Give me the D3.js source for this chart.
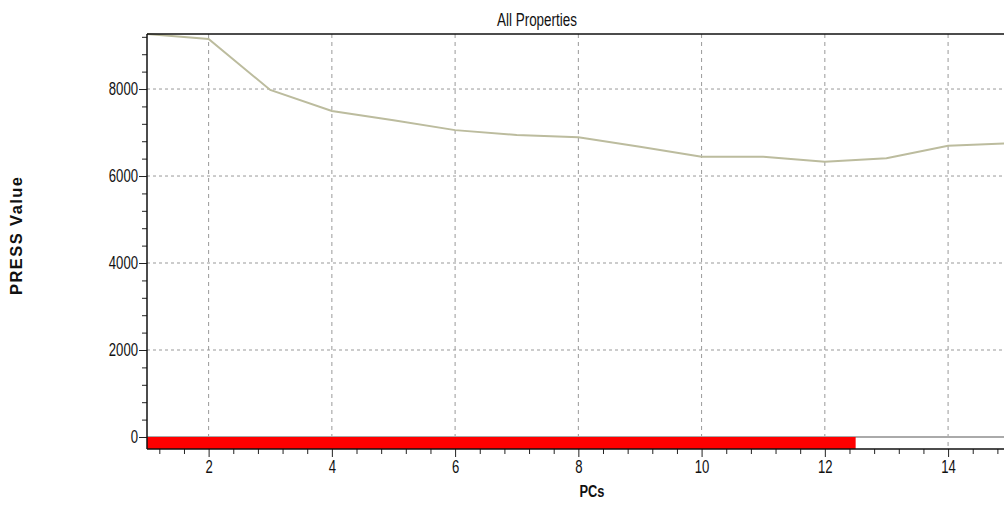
<!DOCTYPE html>
<html>
<head>
<meta charset="utf-8">
<script src="https://cdn.jsdelivr.net/npm/d3@7"></script>
<style>
  body { margin: 0; background: #fff; }
  svg { display: block; }
  .tick text { font-family: "Liberation Sans", Arial, sans-serif; font-size: 18px; fill: #111; }
</style>
</head>
<body>
<svg id="chart"></svg>
<script>
const width = 1004;
const height = 505;

// PRESS value per number of PCs
const pcs = [1, 2, 3, 4, 5, 6, 7, 8, 9, 10, 11, 12, 13, 14, 15];
const press = [9265, 9150, 7978, 7495, 7280, 7055, 6945, 6890, 6672, 6445, 6445, 6330, 6408, 6698, 6752];
const selected = 12.5; // red bar reaches here
const xTicks = [2, 4, 6, 8, 10, 12, 14];
const yTicks = [0, 2000, 4000, 6000, 8000];

const plotLeft = 147, plotRight = 1009.7, plotTop = 34, plotBottom = 449;

var xScale = d3.scaleLinear().domain([1, 15]).range([plotLeft, plotRight]);
var yScale = d3.scaleLinear().domain([-276, 9265]).range([plotBottom, plotTop]);

var svg = d3.select("#chart").attr("width", width).attr("height", height);

// squeeze labels to look like a narrow font
function narrow(sel) {
    sel.attr("textLength", function() { return this.textContent.length * 7.3; })
       .attr("lengthAdjust", "spacingAndGlyphs");
}

// grid
svg.append("g")
    .selectAll("line")
    .data(xTicks)
    .enter()
    .append("line")
    .attr("x1", d => xScale(d)).attr("x2", d => xScale(d))
    .attr("y1", plotTop).attr("y2", plotBottom)
    .attr("stroke", "#999").attr("stroke-dasharray", "4,4");

svg.append("g")
    .selectAll("line")
    .data(yTicks.filter(d => d > 0))
    .enter()
    .append("line")
    .attr("x1", plotLeft).attr("x2", width)
    .attr("y1", d => yScale(d)).attr("y2", d => yScale(d))
    .attr("stroke", "#999").attr("stroke-dasharray", "3,3");

// zero line
svg.append("line")
    .attr("x1", plotLeft).attr("x2", width)
    .attr("y1", yScale(0)).attr("y2", yScale(0))
    .attr("stroke", "#aaa").attr("stroke-width", 2);

// selected PCs bar
svg.append("rect")
    .attr("x", xScale(1))
    .attr("y", yScale(0))
    .attr("width", xScale(selected) - xScale(1))
    .attr("height", plotBottom - yScale(0))
    .attr("fill", "#ff0000");

// PRESS line
var lineGenerator = d3.line().x((d, i) => xScale(pcs[i])).y(d => yScale(d));
svg.append("path")
    .attr("d", lineGenerator(press))
    .attr("fill", "none")
    .attr("stroke", "#bcbc9e")
    .attr("stroke-width", 2);

// axes
var xMinor = d3.range(1.2, 15.01, 0.4).filter(v => Math.abs(v / 2 - Math.round(v / 2)) > 0.01);
svg.append("g")
    .attr("transform", `translate(0,${plotBottom})`)
    .call(d3.axisBottom(xScale).tickValues(xMinor).tickSize(5).tickFormat(""))
    .call(g => g.select(".domain").remove())
    .selectAll("line").attr("stroke", "#222");

svg.append("g")
    .attr("transform", `translate(0,${plotBottom})`)
    .call(d3.axisBottom(xScale).tickValues(xTicks).tickSize(8).tickPadding(3).tickFormat(d3.format("d")))
    .call(g => g.select(".domain").remove())
    .call(g => g.selectAll("line").attr("stroke", "#222"))
    .selectAll("text").call(narrow);

var yMinor = d3.range(0, 9265, 400).filter(v => v % 2000 !== 0);
svg.append("g")
    .attr("transform", `translate(${plotLeft},0)`)
    .call(d3.axisLeft(yScale).tickValues(yMinor).tickSize(5).tickFormat(""))
    .call(g => g.select(".domain").remove())
    .selectAll("line").attr("stroke", "#222");

svg.append("g")
    .attr("transform", `translate(${plotLeft},0)`)
    .call(d3.axisLeft(yScale).tickValues(yTicks).tickSize(8).tickPadding(1).tickFormat(d3.format("d")))
    .call(g => g.select(".domain").remove())
    .call(g => g.selectAll("line").attr("stroke", "#222"))
    .selectAll("text").call(narrow);

// frame lines
svg.append("line").attr("x1", plotLeft).attr("x2", width).attr("y1", plotTop).attr("y2", plotTop)
    .attr("stroke", "#111").attr("stroke-width", 1.5);
svg.append("line").attr("x1", plotLeft).attr("x2", width).attr("y1", plotBottom).attr("y2", plotBottom)
    .attr("stroke", "#111").attr("stroke-width", 1.5);
svg.append("line").attr("x1", plotLeft).attr("x2", plotLeft).attr("y1", plotTop).attr("y2", plotBottom)
    .attr("stroke", "#111").attr("stroke-width", 1.5);

// titles
svg.append("text")
    .attr("x", 537).attr("y", 26)
    .attr("text-anchor", "middle")
    .style("font-family", "'Liberation Sans', Arial, sans-serif")
    .style("font-size", "18px")
    .attr("textLength", 80).attr("lengthAdjust", "spacingAndGlyphs")
    .attr("fill", "#111")
    .text("All Properties");

svg.append("text")
    .attr("x", 592).attr("y", 497)
    .attr("text-anchor", "middle")
    .style("font-family", "'Liberation Sans', Arial, sans-serif")
    .style("font-size", "16px").style("font-weight", "bold")
    .attr("textLength", 25).attr("lengthAdjust", "spacingAndGlyphs")
    .attr("fill", "#111")
    .text("PCs");

svg.append("text")
    .attr("transform", "translate(22,236) rotate(-90)")
    .attr("text-anchor", "middle")
    .style("font-family", "'Liberation Sans', Arial, sans-serif")
    .style("font-size", "16.5px").style("font-weight", "bold")
    .attr("textLength", 118).attr("lengthAdjust", "spacing")
    .attr("fill", "#111")
    .text("PRESS Value");
</script>
</body>
</html>
